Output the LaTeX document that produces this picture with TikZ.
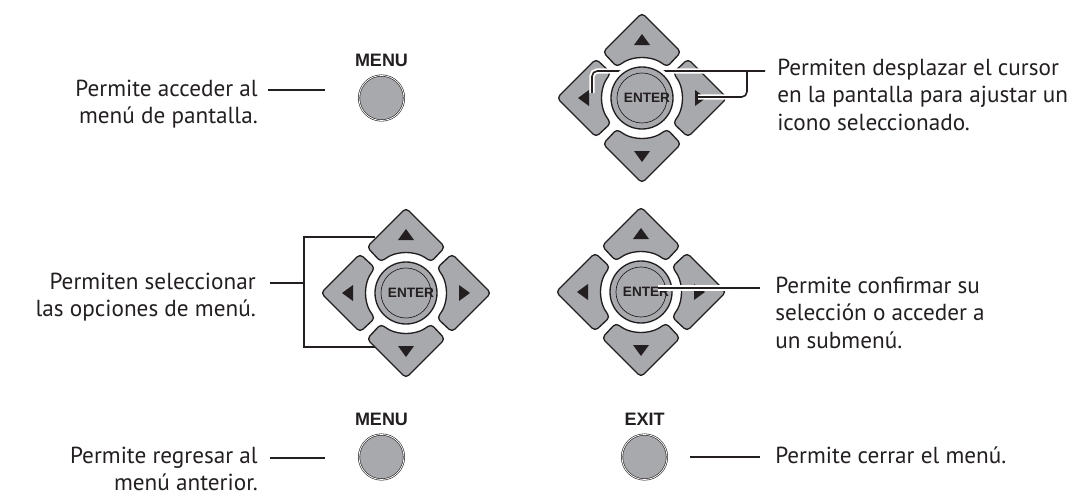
\documentclass[tikz,border=0pt]{standalone}
\usepackage{fontspec}
\setmainfont{PT Sans}
\newfontfamily\keyfont{Liberation Sans}
\usetikzlibrary{positioning}

\definecolor{keygrey}{RGB}{167,169,172}
\definecolor{inkblack}{RGB}{35,31,32}

\tikzset{
  padkey/.style={draw=inkblack, line width=1pt, fill=keygrey, rounded corners=3},
  padtri/.style={fill=inkblack},
  roundkey/.style={circle, minimum size=33.75pt, inner sep=0pt, fill=keygrey,
    draw=inkblack, line width=0.45pt, double=white, double distance=0.6pt},
  keyname/.style={font=\keyfont\bfseries\fontsize{13.5}{14}\selectfont, inner sep=0pt, text=inkblack},
  entername/.style={font=\keyfont\bfseries\fontsize{10.2}{11}\selectfont, inner sep=0pt, text=inkblack},
  note/.style={font=\fontsize{17.4}{20.6}\selectfont, inner sep=0pt, text=inkblack},
  lead/.style={draw=inkblack, line width=1.2pt},
  halo/.style={draw=white, line width=4pt},
}

% the four arrow keys round a centre
\newcommand{\padkeys}[1]{%
  \begin{scope}[shift={(#1)}]
    \foreach \r in {0,90,180,270}{
      \draw[padkey, rotate=\r] (0,-85) -- (39,-46) -- (25,-31)
        .. controls (10.4,-42.8) and (-10.4,-42.8) .. (-25,-31) -- (-39,-46) -- cycle;
      \fill[padtri, rotate=\r] (-8,-53) -- (8,-53) -- (0,-64) -- cycle;
    }
  \end{scope}}
% the ENTER key in the middle
\newcommand{\padring}[2]{%
  \begin{scope}[shift={(#1)}]
    \fill[white] (0,0) circle (35);
    \draw[padkey] (0,0) circle (31);
    \draw[inkblack, line width=0.5pt] (0,0) circle (25);
    \node[entername] (#2) at (5,0) {ENTER};
  \end{scope}}

\begin{document}
\begin{tikzpicture}[x=0.75pt,y=0.75pt,yscale=-1,xscale=1]
  \useasboundingbox (0,0) rectangle (1079,496);

  %Top left: MENU (base is the last line)
  \node[roundkey] (menutop) at (381.5,98) {};
  \node[keyname, above=6pt of menutop] (menutoplabel) {MENU};
  \node[note, anchor=base east, align=right] (accessnote) at (258,123.5)
    {Permite acceder al\\menú de pantalla.};
  \coordinate (accessA) at (268,90);
  \coordinate (accessB) at (325,90);
  \draw[lead] (accessA) -- (accessB);

  %Top right: arrow keys left and right
  \padkeys{642,98}
  \coordinate (cursorS) at (765,71);
  \coordinate (cursorJ) at (747,71);
  \coordinate (cursorL) at (592,93);
  \coordinate (cursorR) at (698,97);
  \draw[halo, rounded corners=4] (cursorS) -| (cursorL);
  \draw[halo, rounded corners=4] (cursorJ) |- (cursorR);
  \draw[lead, rounded corners=4] (cursorS) -| (cursorL);
  \draw[lead, rounded corners=4] (cursorJ) |- (cursorR);
  \padring{642,98}{entertop}
  \node[note, anchor=base west, align=left] (cursornote) at (777,130)
    {Permiten desplazar el cursor\\en la pantalla para ajustar un\\icono seleccionado.};

  %Middle left: arrow keys up and down
  \padkeys{406,293}
  \padring{406,293}{enterleft}
  \node[note, anchor=base east, align=right] (selectnote) at (256,316.5)
    {Permiten seleccionar\\las opciones de menú.};
  \coordinate (selectA) at (270,283);
  \coordinate (selectB) at (304,283);
  \coordinate (selectUp) at (375,237);
  \coordinate (selectDown) at (375,347);
  \draw[lead] (selectA) -- (selectB);
  \draw[lead] (selectUp) -| (selectB) |- (selectDown);

  %Middle right: ENTER
  \padkeys{641,292}
  \padring{641,292}{enterright}
  \coordinate (confirmA) at (658,288);
  \coordinate (confirmB) at (760,288);
  \draw[halo] (confirmA) -- (confirmB);
  \draw[lead] (confirmA) -- (confirmB);
  \node[note, anchor=base west, align=left] (confirmnote) at (775,348)
    {Permite confirmar su\\selección o acceder a\\un submenú.};

  %Bottom left: MENU
  \node[roundkey] (menubottom) at (381.5,457) {};
  \node[keyname, above=6pt of menubottom] (menubottomlabel) {MENU};
  \node[note, anchor=base east, align=right] (backnote) at (258,490.5)
    {Permite regresar al\\menú anterior.};
  \coordinate (backA) at (270,458);
  \coordinate (backB) at (325,458);
  \draw[lead] (backA) -- (backB);

  %Bottom right: EXIT
  \node[roundkey] (exitkey) at (644.5,457) {};
  \node[keyname, above=6pt of exitkey] (exitlabel) {EXIT};
  \coordinate (exitA) at (690,457);
  \coordinate (exitB) at (760,457);
  \draw[lead] (exitA) -- (exitB);
  \node[note, anchor=base west] (exitnote) at (775,463) {Permite cerrar el menú.};
\end{tikzpicture}
\end{document}
